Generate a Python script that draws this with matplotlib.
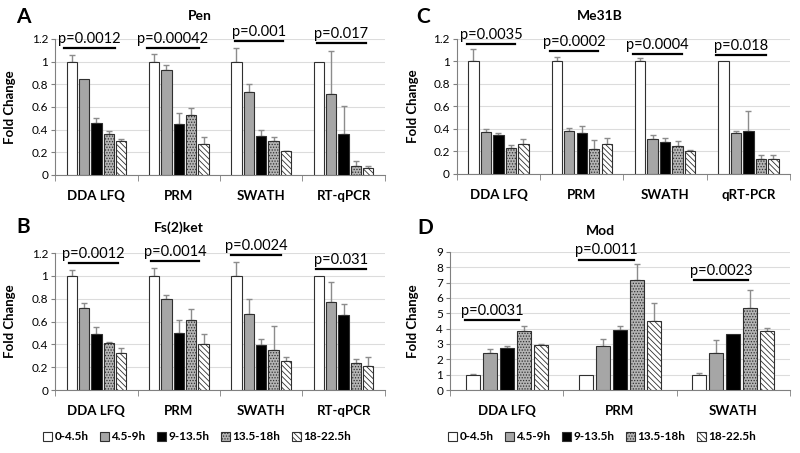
import matplotlib
matplotlib.use("Agg")
import matplotlib.pyplot as plt
import numpy as np
from matplotlib.ticker import FuncFormatter, FixedLocator

plt.rcParams['font.family'] = ['Lato', 'DejaVu Sans']
plt.rcParams['hatch.linewidth'] = 0.6

# ---- data ----
groups = ['0-4.5h', '4.5-9h', '9-13.5h', '13.5-18h', '18-22.5h']

cats_pen = ['DDA LFQ', 'PRM', 'SWATH', 'RT-qPCR']
pen_mean = [[1.0, 0.85, 0.46, 0.36, 0.30],
            [1.0, 0.93, 0.45, 0.53, 0.27],
            [1.0, 0.73, 0.34, 0.30, 0.21],
            [1.0, 0.71, 0.36, 0.08, 0.06]]
pen_err = [[0.06, 0.0, 0.04, 0.03, 0.02],
           [0.07, 0.04, 0.10, 0.06, 0.06],
           [0.12, 0.07, 0.06, 0.03, 0.005],
           [0.0, 0.38, 0.25, 0.04, 0.015]]
pen_p = ['p=0.0012', 'p=0.00042', 'p=0.001', 'p=0.017']
pen_p_level = [1.12, 1.12, 1.18, 1.165]

cats_fs = ['DDA LFQ', 'PRM', 'SWATH', 'RT-qPCR']
fs_mean = [[1.0, 0.72, 0.49, 0.41, 0.32],
           [1.0, 0.80, 0.50, 0.61, 0.40],
           [1.0, 0.67, 0.39, 0.35, 0.25],
           [1.0, 0.77, 0.66, 0.24, 0.21]]
fs_err = [[0.05, 0.04, 0.06, 0.01, 0.05],
          [0.07, 0.03, 0.11, 0.10, 0.09],
          [0.12, 0.13, 0.06, 0.21, 0.04],
          [0.0, 0.18, 0.09, 0.03, 0.08]]
fs_p = ['p=0.0012', 'p=0.0014', 'p=0.0024', 'p=0.031']
fs_p_level = [1.113, 1.128, 1.18, 1.063]

cats_me = ['DDA LFQ', 'PRM', 'SWATH', 'qRT-PCR']
me_mean = [[1.0, 0.37, 0.35, 0.23, 0.27],
           [1.0, 0.38, 0.36, 0.22, 0.27],
           [1.0, 0.31, 0.28, 0.25, 0.20],
           [1.0, 0.36, 0.38, 0.13, 0.13]]
me_err = [[0.11, 0.03, 0.01, 0.03, 0.04],
          [0.04, 0.03, 0.07, 0.08, 0.05],
          [0.03, 0.04, 0.04, 0.04, 0.01],
          [0.0, 0.02, 0.18, 0.04, 0.04]]
me_p = ['p=0.0035', 'p=0.0002', 'p=0.0004', 'p=0.018']
me_p_level = [1.156, 1.09, 1.067, 1.06]

cats_mod = ['DDA LFQ', 'PRM', 'SWATH']
mod_mean = [[1.0, 2.40, 2.75, 3.83, 2.96],
            [1.0, 2.85, 3.90, 7.18, 4.51],
            [1.0, 2.43, 3.68, 5.32, 3.85]]
mod_err = [[0.03, 0.28, 0.11, 0.32, 0.02],
           [0.0, 0.47, 0.27, 1.03, 1.18],
           [0.10, 0.80, 0.0, 1.18, 0.20]]
mod_p = ['p=0.0031', 'p=0.0011', 'p=0.0023']
mod_p_level = [4.55, 8.5, 7.18]

# ---- styles ----
faces = ['white', '#a6a6a6', 'black', '#b4b4b4', 'white']
hatches = [None, None, None, '......', '\\\\\\\\\\\\']
edge = '#303030'

fig = plt.figure(figsize=(8, 4.53), dpi=100)


def panel(rect, cats, mean, err, pvals, plevels, pspans, ymax, ystep):
    ax = fig.add_axes(rect)
    mean = np.array(mean)
    err = np.array(err)
    x = np.arange(len(cats))
    w = 0.125
    sp = 0.15
    bars = []
    for g in range(len(groups)):
        xs = x + (g - 2) * sp
        b = ax.bar(xs, mean[:, g], w, color=faces[g], edgecolor=edge,
                   linewidth=0.8, hatch=hatches[g], zorder=3, label=groups[g])
        bars.append(b)
        m = err[:, g] > 0
        ax.errorbar(xs[m], mean[m, g], yerr=[np.zeros(m.sum()), err[m, g]],
                    fmt='none', ecolor='#8c8c8c', elinewidth=1.0,
                    capsize=2.5, capthick=1.0, zorder=2)
    for i, (t, lv, sp_) in enumerate(zip(pvals, plevels, pspans)):
        x0 = i - 0.5 + sp_[0]
        x1 = i - 0.5 + sp_[1]
        ax.plot([x0, x1], [lv, lv], color='black', lw=1.6, zorder=4)
        ax.annotate(t, ((x0 + x1) / 2, lv), xytext=(0, 1.5),
                    textcoords='offset points', ha='center', va='bottom',
                    fontsize=10.5)
    ax.set_xlim(-0.5, len(cats) - 0.5)
    ax.set_ylim(0, ymax)
    ax.yaxis.set_major_locator(FixedLocator(np.arange(0, ymax + ystep / 2, ystep)))
    ax.yaxis.set_major_formatter(FuncFormatter(lambda v, p: '%g' % round(v, 2)))
    ax.set_xticks(x)
    ax.set_xticklabels(cats, fontweight='bold', fontsize=9.5)
    ax.set_xticks(np.arange(len(cats) + 1) - 0.5, minor=True)
    ax.tick_params(axis='x', which='major', length=0, pad=11)
    ax.tick_params(axis='x', which='minor', length=4, color='#808080')
    ax.tick_params(axis='y', length=3, color='#808080', labelsize=8.5, pad=2)
    ax.grid(axis='y', color='#dcdcdc', lw=0.8, zorder=0)
    ax.set_axisbelow(True)
    for s in ['top', 'right']:
        ax.spines[s].set_visible(False)
    ax.spines['left'].set_color('#808080')
    ax.spines['bottom'].set_color('#808080')
    ax.set_ylabel('Fold Change', fontweight='bold', fontsize=9.5)
    return ax, bars


spans4a = [(0.11, 0.73), (0.11, 0.75), (0.18, 0.77), (0.18, 0.77)]
spans4b = [(0.17, 0.76), (0.16, 0.75), (0.13, 0.74), (0.16, 0.77)]
spans4c = [(0.12, 0.70), (0.12, 0.69), (0.12, 0.70), (0.11, 0.71)]
spans3d = [(0.13, 0.61), (0.14, 0.62), (0.15, 0.63)]

axA, barsA = panel([0.069, 0.614, 0.412, 0.300], cats_pen, pen_mean, pen_err,
                   pen_p, pen_p_level, spans4a, 1.2, 0.2)
axB, _ = panel([0.069, 0.139, 0.412, 0.3025], cats_fs, fs_mean, fs_err,
               fs_p, fs_p_level, spans4b, 1.2, 0.2)
axC, _ = panel([0.571, 0.616, 0.4165, 0.298], cats_me, me_mean, me_err,
               me_p, me_p_level, spans4c, 1.2, 0.2)
axD, _ = panel([0.5625, 0.139, 0.425, 0.305], cats_mod, mod_mean, mod_err,
               mod_p, mod_p_level, spans3d, 9, 1)

axA.yaxis.set_label_coords(-0.12, 0.5)
axB.yaxis.set_label_coords(-0.12, 0.5)
axC.yaxis.set_label_coords(-0.114, 0.5)
axD.yaxis.set_label_coords(-0.09, 0.5)

# panel titles and letters
fig.text(200 / 800, 1 - 16 / 453, 'Pen', ha='center', va='center', fontweight='bold', fontsize=10)
fig.text(600 / 800, 1 - 16 / 453, 'Me31B', ha='center', va='center', fontweight='bold', fontsize=10)
fig.text(179 / 800, 1 - 228 / 453, 'Fs(2)ket', ha='center', va='center', fontweight='bold', fontsize=10)
fig.text(600 / 800, 1 - 231 / 453, 'Mod', ha='center', va='center', fontweight='bold', fontsize=10)
for lbl, px, py in [('A', 23, 17), ('C', 423, 17), ('B', 23, 227), ('D', 425, 228)]:
    fig.text(px / 800, 1 - py / 453, lbl, ha='center', va='center',
             fontweight='bold', fontsize=15)

# legends
for cx in [197, 602]:
    fig.legend(barsA, groups, loc='center', bbox_to_anchor=(cx / 800, 1 - 437 / 453),
               ncol=5, frameon=False, prop={'size': 8.5, 'weight': 'bold'},
               handlelength=0.75, handleheight=0.75, handletextpad=0.25,
               columnspacing=0.95, borderaxespad=0, borderpad=0)

fig.savefig('out.png', dpi=100)
